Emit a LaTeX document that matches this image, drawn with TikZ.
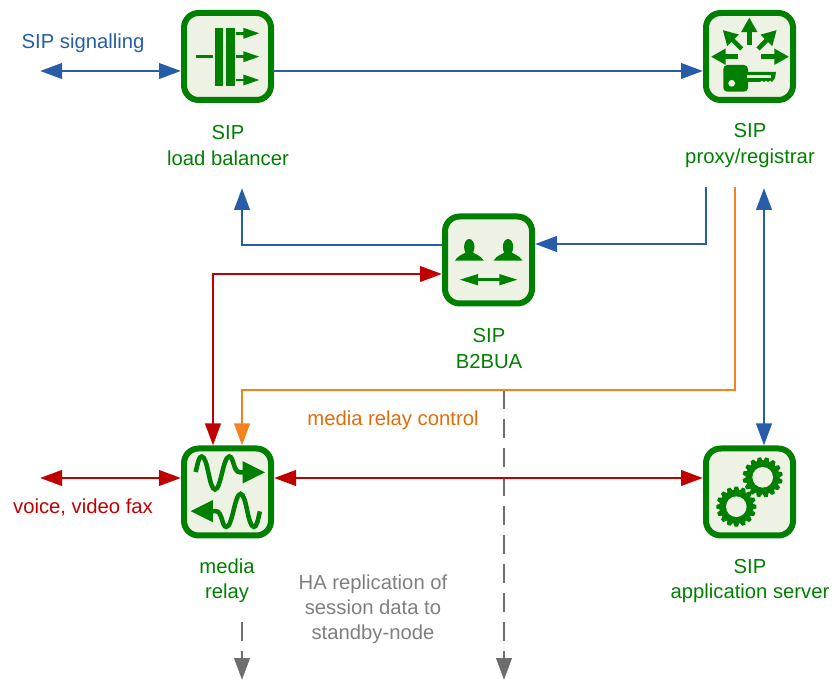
\documentclass[tikz,border=0pt]{standalone}
\usepackage{fontspec}
\setmainfont{Liberation Sans}
\usetikzlibrary{arrows.meta}
\definecolor{boxgreen}{RGB}{0,128,0}
\definecolor{boxfill}{RGB}{238,242,228}
\definecolor{sigblue}{RGB}{38,92,168}
\definecolor{medred}{RGB}{192,0,0}
\definecolor{ctlorange}{RGB}{245,130,32}
\definecolor{ctltext}{RGB}{227,108,10}
\definecolor{hagray}{RGB}{110,110,110}
\definecolor{hatext}{RGB}{127,127,127}
\tikzset{
  >={Triangle[length=16.5pt,width=11.5pt]},
  sipbox/.style={draw=boxgreen,fill=boxfill,line width=4.5pt,rounded corners=11pt,minimum size=65.25pt,inner sep=0pt},
  txt/.style={font=\fontsize{15.2}{18.8}\selectfont,align=center,inner sep=0pt},
  bluel/.style={draw=sigblue,line width=2.2pt},
  redl/.style={draw=medred,line width=2.2pt},
  orangel/.style={draw=ctlorange,line width=2.2pt},
  grayl/.style={draw=hagray,line width=2.2pt,dash pattern=on 14.25pt off 7.5pt},
  iconl/.style={draw=boxgreen,line width=3.4pt},
  iconf/.style={fill=boxgreen},
  smalltip/.style={-{Triangle[length=11pt,width=11.5pt]}}
}

\begin{document}
\begin{tikzpicture}[x=0.75pt,y=-0.75pt]
\useasboundingbox (0,0) rectangle (832,680);
%
\node[sipbox] (lb) at (227.5,56.5) {};
\node[sipbox] (reg) at (749.5,56.5) {};
\node[sipbox] (ua) at (488.5,260) {};
\node[sipbox] (mr) at (227.5,492) {};
\node[sipbox] (as) at (749.5,492) {};
%
\coordinate (sigend) at (40,71);
\coordinate (bluedown) at (706,187);
\coordinate (blueturn) at (706,244);
\coordinate (lbup) at (242,188);
\coordinate (lbturn) at (242,245);
\coordinate (redcorner) at (213,274);
\coordinate (ctlstart) at (735,187);
\coordinate (ctlturn) at (242,390);
\coordinate (asup) at (764,188);
\coordinate (medend) at (40,478);
\coordinate (hastart) at (504,390);
\coordinate (haend) at (504,680);
\coordinate (hbstart) at (242,622);
\coordinate (hbend) at (242,680);
%
% standby replication
\draw[grayl,->] (hastart) -- (haend);
\draw[grayl,->] (hbstart) -- (hbend);
%
% signalling
\draw[bluel,<->] (sigend) -- (sigend -| lb.west);
\draw[bluel,->] (sigend -| lb.east) -- (sigend -| reg.west);
\draw[bluel,->] (bluedown) -- (blueturn) -- (blueturn -| ua.east);
\draw[bluel,->] (lbturn -| ua.west) -- (lbturn) -- (lbup);
\draw[bluel,<->] (asup) -- (asup |- as.north);
%
% media
\draw[redl,<->] (redcorner -| ua.west) -- (redcorner) -- (redcorner |- mr.north);
\draw[redl,<->] (medend) -- (medend -| mr.west);
\draw[redl,<->] (medend -| mr.east) -- (medend -| as.west);
%
% control
\draw[orangel,->] (ctlstart) |- (ctlturn) -- (ctlturn |- mr.north);
%
% load balancer icon
\fill[iconf] (214.7,28) rectangle (223.3,86);
\fill[iconf] (226,28) rectangle (234.7,86);
\draw[iconl,line width=2.4pt] (195.7,56.7) -- (213,56.7);
\foreach \y in {33.3,56.7,80} {
  \draw[iconl,line width=1.9pt] (236,\y) -- (245,\y);
  \fill[iconf] (243.3,\y-5.5) -- (259.3,\y) -- (243.3,\y+5.5) -- cycle;
}
%
% proxy icon
\draw[iconl,smalltip] (749.3,45) -- (749.3,17.5);
\draw[iconl,smalltip] (738,56.7) -- (711,56.7);
\draw[iconl,smalltip] (761,56.7) -- (789,56.7);
\draw[iconl,smalltip] (741.7,49) -- (722.7,30);
\draw[iconl,smalltip] (758,49) -- (776.7,30);
\fill[iconf,rounded corners=3pt] (723.3,65) rectangle (748,91.7);
\fill[boxfill] (731.7,83.3) circle (3.4);
\fill[iconf] (746,72) -- (776,72) -- (775,78) -- (772,82) -- (770,80.5) -- (768,82) -- (766,80.5) -- (764,82) -- (762,80.5) -- (760,82) -- (746,82) -- cycle;
\fill[boxfill] (747,75) rectangle (771,77.8);
%
% b2bua icon
\foreach \x in {469.3,508} {
  \fill[iconf] (\x,247) ellipse (5.2 and 8);
  \fill[iconf] (\x-14.5,260.7) .. controls (\x-11,255) and (\x-6,254.5) .. (\x-3,252) -- (\x+3,252) .. controls (\x+6,254.5) and (\x+11,255) .. (\x+14.5,260.7) -- cycle;
}
\draw[iconl,line width=1.9pt] (475,279.7) -- (503,279.7);
\fill[iconf] (460,279.7) -- (478,274) -- (478,285.4) -- cycle;
\fill[iconf] (517.3,279.7) -- (499.3,274) -- (499.3,285.4) -- cycle;
%
% media relay icon
\foreach \a in {0,180} {
  \begin{scope}[rotate around={\a:(227.8,491.7)}]
  \draw[iconl] (195.7,472) .. controls (198,462) and (199,456.5) .. (201.7,456.5) .. controls (208,456.5) and (209,489.5) .. (215,489.5) .. controls (221,489.5) and (223,456.5) .. (229.3,456.5) .. controls (234,456.5) and (233,472.3) .. (240,472.3) -- (246,472.3);
  \fill[iconf] (242.7,461.2) -- (265,472.3) -- (242.7,483.4) -- cycle;
  \end{scope}
}
%
% application server icon
\foreach \gx/\gy/\gr in {762.7/477.3/10,736.3/506.7/0} {
  \foreach \a in {0,22.5,...,337.5}
    \fill[iconf,shift={(\gx,\gy)},rotate=\a+\gr] (15.5,-3.2) -- (20,-1.7) -- (20,1.7) -- (15.5,3.2) -- cycle;
  \fill[iconf] (\gx,\gy) circle (16.9);
  \fill[boxfill] (\gx,\gy) circle (10.3);
}
%
\node[txt,text=sigblue] (sigtxt) at (83,43.5) {SIP signalling};
\node[txt,text=boxgreen] (lbtxt) at (228,145.5) {SIP\\load balancer};
\node[txt,text=boxgreen] (regtxt) at (750,145.5) {SIP\\proxy/registrar};
\node[txt,text=boxgreen] (uatxt) at (489,348.5) {SIP\\B2BUA};
\node[txt,text=ctltext] (ctltxt) at (393,420.5) {media relay control};
\node[txt,text=medred] (medtxt) at (83,507.5) {voice, video fax};
\node[txt,text=boxgreen] (mrtxt) at (227,581) {media\\relay};
\node[txt,text=boxgreen] (astxt) at (750,581) {SIP\\application server};
\node[txt,text=hatext] (hatxt) at (373,609) {HA replication of\\session data to\\standby-node};
\end{tikzpicture}
\end{document}
